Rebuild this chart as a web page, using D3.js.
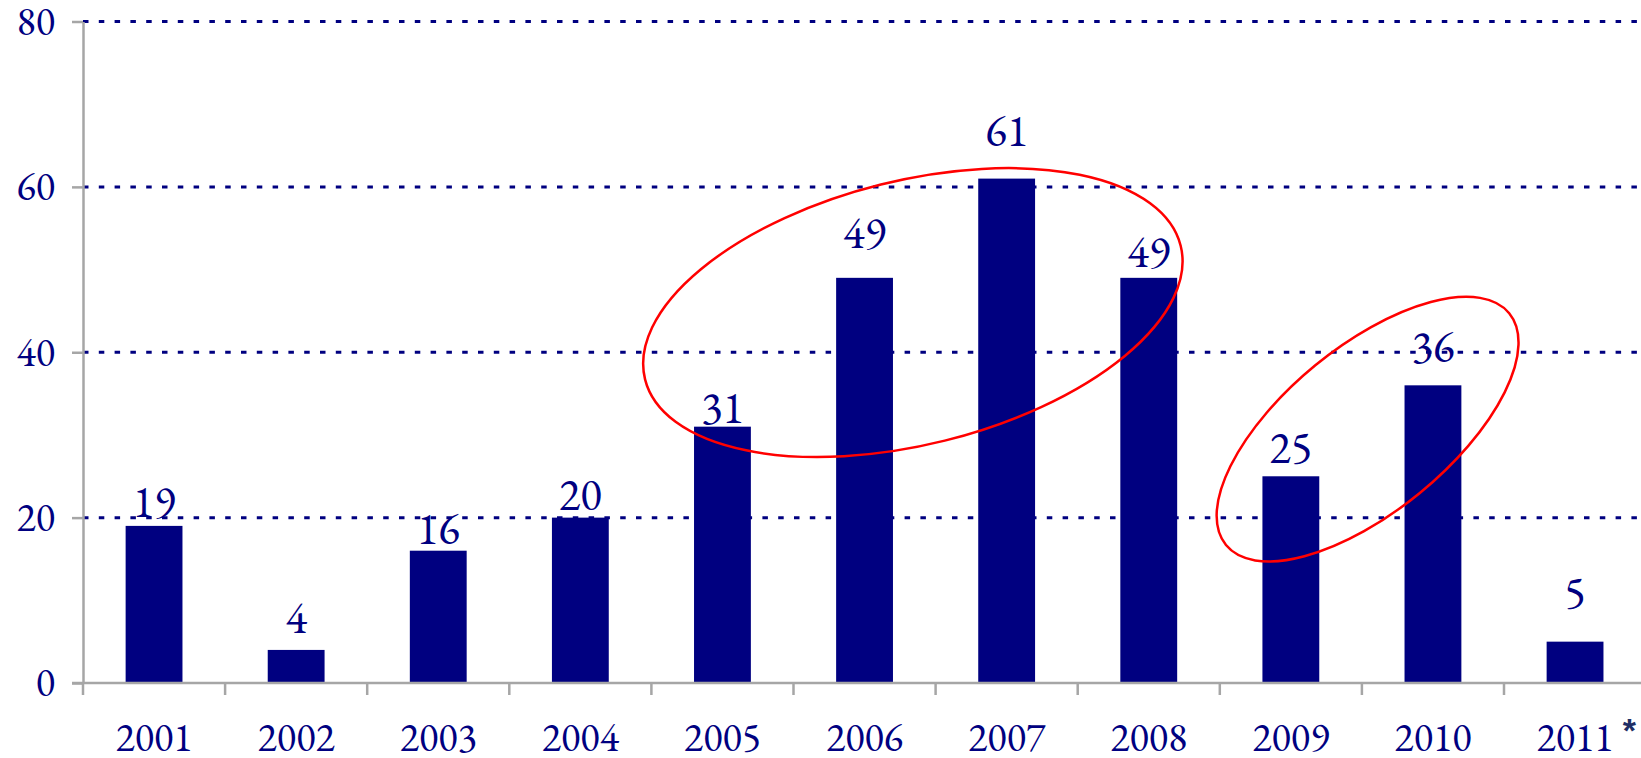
<!DOCTYPE html>
<html>
<head>
<meta charset="utf-8">
<script src="https://cdn.jsdelivr.net/npm/d3@7/dist/d3.min.js"></script>
<style>
  html, body { margin: 0; padding: 0; background: #fff; }
  svg { display: block; }
  text { fill: #000080; }
</style>
</head>
<body>
<svg id="chart" width="1641" height="758"></svg>
<script>
// data
const years = ["2001", "2002", "2003", "2004", "2005", "2006", "2007", "2008", "2009", "2010", "2011"]
const counts = [19, 4, 16, 20, 31, 49, 61, 49, 25, 36, 5]
const yTicks = [0, 20, 40, 60, 80]
const gridValues = [20, 40, 60, 80]
// how far each value label sits above its bar (px), as placed in the original
const labelLift = [9, 17, 7, 8, 4, 30, 33, 11, 13, 23, 34]
// red rings drawn over the chart
const rings = [
    { year: "2006", shift: 0.34, value: 44.8, rx: 276, ry: 132, angle: -14 },
    { year: "2009", shift: 0.54, value: 30.7, rx: 183, ry: 82.5, angle: -39.3 }
]

const W = 1641, H = 758
const plotLeft = 83, plotTop = 21.5, plotBottom = 683
const navy = "#000080", axisGray = "#a6a6a6"
const serif = "'EB Garamond', 'Liberation Serif', serif"

const svg = d3.select("#chart")

// size the garamond so one digit is as wide as in the original (~19.3px axis, ~21.5px labels)
const probe = svg.append("text").style("font-family", serif).style("font-size", "100px").text("2001")
const digit100 = probe.node().getComputedTextLength() / 4
probe.remove()
const axisFont = 19.3 / digit100 * 100
const labelFont = 21.5 / digit100 * 100

// scales - last band runs off the right edge like in the original
const step = 142.1
const xScale = d3.scaleBand()
    .domain(years)
    .range([plotLeft, plotLeft + step * years.length])
    .paddingInner(0.6)
    .paddingOuter(0.3)

const yScale = d3.scaleLinear().domain([0, 80]).range([plotBottom, plotTop])

// dotted grid
svg.append("g")
    .selectAll("line")
    .data(gridValues)
    .enter()
    .append("line")
    .attr("x1", plotLeft)
    .attr("x2", W)
    .attr("y1", d => yScale(d))
    .attr("y2", d => yScale(d))
    .attr("stroke", navy)
    .attr("stroke-width", 3)
    .attr("stroke-dasharray", "5.5 10.3")

// bars
svg.append("g")
    .selectAll("rect")
    .data(counts)
    .enter()
    .append("rect")
    .attr("x", (d, i) => xScale(years[i]))
    .attr("y", d => yScale(d))
    .attr("width", xScale.bandwidth())
    .attr("height", d => plotBottom - yScale(d))
    .attr("fill", navy)

// y axis
const yAxis = d3.axisLeft(yScale)
    .tickValues(yTicks)
    .tickSize(11)
    .tickSizeOuter(0)
    .tickPadding(17)

const gy = svg.append("g")
    .attr("transform", "translate(" + plotLeft + ",0)")
    .call(yAxis)
gy.attr("font-family", null)
gy.select(".domain").attr("stroke", axisGray).attr("stroke-width", 2.5)
gy.selectAll(".tick line").attr("stroke", axisGray).attr("stroke-width", 2.5)
gy.selectAll(".tick text")
    .attr("fill", navy)
    .style("font-size", axisFont + "px")
    .style("font-family", serif)

// x axis: gray base line with ticks between the bars
svg.append("line")
    .attr("x1", plotLeft - 11)
    .attr("x2", W)
    .attr("y1", plotBottom)
    .attr("y2", plotBottom)
    .attr("stroke", axisGray)
    .attr("stroke-width", 2.5)

svg.append("g")
    .selectAll("line")
    .data(years)
    .enter()
    .append("line")
    .attr("x1", d => xScale(d) - xScale.step() * 0.3)
    .attr("x2", d => xScale(d) - xScale.step() * 0.3)
    .attr("y1", plotBottom)
    .attr("y2", plotBottom + 12)
    .attr("stroke", axisGray)
    .attr("stroke-width", 2.5)

const xAxis = d3.axisBottom(xScale).tickSize(0).tickSizeOuter(0)
const gx = svg.append("g")
    .attr("transform", "translate(0," + plotBottom + ")")
    .call(xAxis)
gx.attr("font-family", null)
gx.select(".domain").remove()
gx.selectAll(".tick text")
    .attr("y", 68)
    .attr("dy", null)
    .attr("fill", navy)
    .style("font-size", axisFont + "px")
    .style("font-family", serif)

// asterisk after the last year
const lastTick = gx.selectAll(".tick").filter(d => d === years[years.length - 1])
const lastBox = lastTick.select("text").node().getBBox()
lastTick.append("text")
    .attr("x", lastBox.x + lastBox.width + 9)
    .attr("y", 59)
    .attr("text-anchor", "start")
    .style("font-family", "'Liberation Sans', Arial, sans-serif")
    .style("font-weight", "bold")
    .style("font-size", "34px")
    .style("fill", "#1f2f66")
    .text("*")

// value labels
svg.append("g")
    .selectAll("text")
    .data(counts)
    .enter()
    .append("text")
    .attr("x", (d, i) => xScale(years[i]) + xScale.bandwidth() / 2)
    .attr("y", (d, i) => yScale(d) - labelLift[i])
    .attr("text-anchor", "middle")
    .style("font-size", labelFont + "px")
    .style("font-family", serif)
    .text(d => d)

// red rings
svg.append("g")
    .selectAll("ellipse")
    .data(rings)
    .enter()
    .append("ellipse")
    .attr("transform", d => {
        const cx = xScale(d.year) + xScale.bandwidth() / 2 + d.shift * xScale.step()
        const cy = yScale(d.value)
        return "translate(" + cx + "," + cy + ") rotate(" + d.angle + ")"
    })
    .attr("rx", d => d.rx)
    .attr("ry", d => d.ry)
    .attr("fill", "none")
    .attr("stroke", "#ff0000")
    .attr("stroke-width", 2.5)
</script>
</body>
</html>
